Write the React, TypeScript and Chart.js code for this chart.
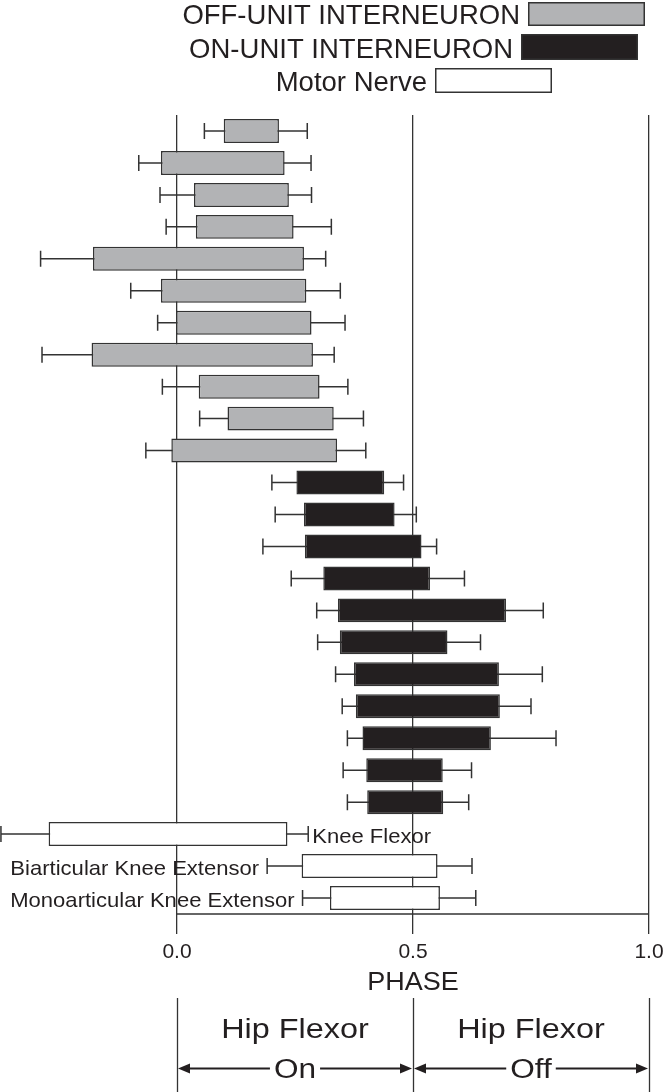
import React, { useEffect, useRef } from 'react';
import { Chart, registerables } from 'chart.js';

Chart.register(...registerables);

// ---------------- DATA ----------------
const rowLabels = [
  'Off-unit 1', 'Off-unit 2', 'Off-unit 3', 'Off-unit 4', 'Off-unit 5', 'Off-unit 6',
  'Off-unit 7', 'Off-unit 8', 'Off-unit 9', 'Off-unit 10', 'Off-unit 11',
  'On-unit 1', 'On-unit 2', 'On-unit 3', 'On-unit 4', 'On-unit 5', 'On-unit 6',
  'On-unit 7', 'On-unit 8', 'On-unit 9', 'On-unit 10', 'On-unit 11',
  'Knee Flexor', 'Biarticular Knee Extensor', 'Monoarticular Knee Extensor',
];

const offBoxLow = [0.099, -0.034, 0.036, 0.040, -0.178, -0.034, -0.002, -0.181, 0.046, 0.107, -0.012];
const offBoxHigh = [0.216, 0.228, 0.237, 0.247, 0.269, 0.274, 0.285, 0.288, 0.302, 0.332, 0.339];
const offWhiskLow = [0.058, -0.081, -0.036, -0.023, -0.289, -0.098, -0.041, -0.286, -0.031, 0.048, -0.066];
const offWhiskHigh = [0.276, 0.284, 0.285, 0.327, 0.315, 0.346, 0.356, 0.333, 0.362, 0.395, 0.400];

const onBoxLow = [0.253, 0.269, 0.271, 0.310, 0.341, 0.345, 0.375, 0.379, 0.393, 0.401, 0.403];
const onBoxHigh = [0.439, 0.461, 0.518, 0.536, 0.697, 0.573, 0.682, 0.684, 0.665, 0.563, 0.564];
const onWhiskLow = [0.201, 0.208, 0.182, 0.242, 0.296, 0.298, 0.336, 0.350, 0.361, 0.352, 0.361];
const onWhiskHigh = [0.480, 0.507, 0.550, 0.609, 0.776, 0.643, 0.774, 0.750, 0.803, 0.624, 0.618];

const motorBoxLow = [-0.272, 0.264, 0.324];
const motorBoxHigh = [0.234, 0.552, 0.557];
const motorWhiskLow = [-0.373, 0.191, 0.266];
const motorWhiskHigh = [0.278, 0.625, 0.633];
const motorLabelSide = ['right', 'left', 'left'];

const seriesNames = ['OFF-UNIT INTERNEURON', 'ON-UNIT INTERNEURON', 'Motor Nerve'];

const xTickValues = [0, 0.5, 1.0];
const xTickLabels = ['0.0', '0.5', '1.0'];
const xAxisTitle = 'PHASE';

const bandStarts = [0, 0.5];
const bandEnds = [0.5, 1.0];
const bandTitles = ['Hip Flexor', 'Hip Flexor'];
const bandStates = ['On', 'Off'];

// ---------------- STYLE ----------------
const FONT = '"Liberation Sans", Arial, Helvetica, sans-serif';
const INK = '#231f20';
const LINE = '#333333';
const GRAY = '#b2b3b5';
const BLACK = '#231f20';
const WHITE = '#ffffff';

const N_OFF = offBoxLow.length;
const N_ON = onBoxLow.length;
const N_MOTOR = motorBoxLow.length;

function pad<T>(before: number, items: T[], after: number): (T | null)[] {
  return [...Array(before).fill(null), ...items, ...Array(after).fill(null)];
}

const offData = pad(0, offBoxLow.map((v, i) => [v, offBoxHigh[i]]), N_ON + N_MOTOR);
const offWhiskers = pad(0, offWhiskLow.map((v, i) => [v, offWhiskHigh[i]]), N_ON + N_MOTOR);
const onData = pad(N_OFF, onBoxLow.map((v, i) => [v, onBoxHigh[i]]), N_MOTOR);
const onWhiskers = pad(N_OFF, onWhiskLow.map((v, i) => [v, onWhiskHigh[i]]), N_MOTOR);
const motorData = pad(N_OFF + N_ON, motorBoxLow.map((v, i) => [v, motorBoxHigh[i]]), 0);
const motorWhiskers = pad(N_OFF + N_ON, motorWhiskLow.map((v, i) => [v, motorWhiskHigh[i]]), 0);

function drawText(ctx: CanvasRenderingContext2D, s: string, x: number, y: number, size: number,
  align: CanvasTextAlign, sx = 1, color = INK) {
  ctx.save();
  ctx.font = `${size}px ${FONT}`;
  ctx.fillStyle = color;
  ctx.textBaseline = 'alphabetic';
  ctx.textAlign = align;
  ctx.translate(x, y);
  ctx.scale(sx, 1);
  ctx.fillText(s, 0, 0);
  ctx.restore();
}

function textWidth(ctx: CanvasRenderingContext2D, s: string, size: number, sx = 1) {
  ctx.save();
  ctx.font = `${size}px ${FONT}`;
  const w = ctx.measureText(s).width * sx;
  ctx.restore();
  return w;
}

function arrowHead(ctx: CanvasRenderingContext2D, tipX: number, y: number, dir: number) {
  const len = 12, half = 5;
  ctx.beginPath();
  ctx.moveTo(tipX, y);
  ctx.lineTo(tipX - dir * len, y - half);
  ctx.lineTo(tipX - dir * len, y + half);
  ctx.closePath();
  ctx.fill();
}

const legendBoxes = [
  [528, 2, 117, 24],
  [521, 34, 117, 26],
  [435, 68, 117, 25],
];
const legendBaselines = [24, 57.5, 91];

const customPlugin = {
  id: 'custom',
  beforeDatasetsDraw(chart: any) {
    const { ctx } = chart;
    const xs = chart.scales.x, ys = chart.scales.y;
    ctx.save();
    ctx.strokeStyle = LINE;
    ctx.lineWidth = 1.5;
    chart.data.datasets.forEach((ds: any) => {
      (ds.whiskers || []).forEach((w: number[] | null, i: number) => {
        if (!w) return;
        const yc = ys.getPixelForValue(i);
        const x1 = xs.getPixelForValue(w[0]);
        const x2 = xs.getPixelForValue(w[1]);
        ctx.beginPath();
        ctx.moveTo(x1, yc); ctx.lineTo(x2, yc);
        ctx.moveTo(x1, yc - 8); ctx.lineTo(x1, yc + 8);
        ctx.moveTo(x2, yc - 8); ctx.lineTo(x2, yc + 8);
        ctx.stroke();
      });
    });
    ctx.restore();
  },
  afterDraw(chart: any) {
    const { ctx, chartArea } = chart;
    const xs = chart.scales.x, ys = chart.scales.y;
    const x0 = xs.getPixelForValue(xTickValues[0]);
    const x1 = xs.getPixelForValue(xTickValues[xTickValues.length - 1]);

    // bottom axis line (only across 0..1)
    ctx.save();
    ctx.strokeStyle = LINE;
    ctx.lineWidth = 1.3;
    ctx.beginPath();
    ctx.moveTo(x0, chartArea.bottom);
    ctx.lineTo(x1, chartArea.bottom);
    ctx.stroke();
    ctx.restore();

    // motor nerve labels
    const motorDs: any = chart.data.datasets[2];
    for (let k = 0; k < N_MOTOR; k++) {
      const i = N_OFF + N_ON + k;
      const yc = ys.getPixelForValue(i);
      const w = motorDs.whiskers[i];
      const label = chart.data.labels[i];
      if (motorLabelSide[k] === 'right') {
        drawText(ctx, label, xs.getPixelForValue(w[1]) + 4, yc + 8.5, 21, 'left', 1.05);
      } else {
        drawText(ctx, label, xs.getPixelForValue(w[0]) - 8, yc + 8.5, 21, 'right', 1.05);
      }
    }

    // legend
    chart.data.datasets.forEach((ds: any, d: number) => {
      const [bx, by, bw, bh] = legendBoxes[d];
      ctx.save();
      ctx.fillStyle = ds.backgroundColor;
      ctx.fillRect(bx, by, bw, bh);
      ctx.strokeStyle = LINE;
      ctx.lineWidth = 1.5;
      ctx.strokeRect(bx + 0.75, by + 0.75, bw - 1.5, bh - 1.5);
      ctx.restore();
      drawText(ctx, ds.label, bx - 8, legendBaselines[d], 27.5, 'right');
    });

    // axis title
    drawText(ctx, xAxisTitle, xs.getPixelForValue(0.5), 990, 25, 'center', 1.08);

    // hip flexor bands
    const bandLineTop = 998;
    const H = chart.height;
    ctx.save();
    ctx.strokeStyle = LINE;
    ctx.lineWidth = 1.3;
    const edges = [bandStarts[0], ...bandEnds];
    edges.forEach((v) => {
      const px = Math.round(xs.getPixelForValue(v)) + 0.5;
      ctx.beginPath();
      ctx.moveTo(px, bandLineTop);
      ctx.lineTo(px, H);
      ctx.stroke();
    });
    ctx.restore();

    const arrowY = 1068.5;
    bandStarts.forEach((s, b) => {
      const a = xs.getPixelForValue(s) + 1;
      const e = xs.getPixelForValue(bandEnds[b]) - 1;
      const mid = (xs.getPixelForValue(s) + xs.getPixelForValue(bandEnds[b])) / 2;
      drawText(ctx, bandTitles[b], mid, 1038, 27, 'center', 1.2);
      drawText(ctx, bandStates[b], mid, 1077.5, 27, 'center', 1.17);
      const tw = textWidth(ctx, bandStates[b], 27, 1.17);
      ctx.save();
      ctx.strokeStyle = INK;
      ctx.fillStyle = INK;
      ctx.lineWidth = 2;
      ctx.beginPath();
      ctx.moveTo(a + 8, arrowY);
      ctx.lineTo(mid - tw / 2 - 4, arrowY);
      ctx.moveTo(mid + tw / 2 + 4, arrowY);
      ctx.lineTo(e - 8, arrowY);
      ctx.stroke();
      arrowHead(ctx, a, arrowY, -1);
      arrowHead(ctx, e, arrowY, 1);
      ctx.restore();
    });
  },
};

export default function App() {
  const ref = useRef<HTMLCanvasElement>(null);
  useEffect(() => {
    document.body.style.margin = '0';
    Chart.defaults.font.family = FONT;
    Chart.defaults.color = INK;
    const common = {
      borderColor: LINE,
      borderWidth: 1.5,
      borderSkipped: false,
      grouped: false,
      barPercentage: 0.75,
      categoryPercentage: 1,
    };
    const chart = new Chart(ref.current as HTMLCanvasElement, {
      type: 'bar',
      data: {
        labels: rowLabels,
        datasets: [
          { ...common, label: seriesNames[0], data: offData, whiskers: offWhiskers, backgroundColor: GRAY } as any,
          { ...common, label: seriesNames[1], data: onData, whiskers: onWhiskers, backgroundColor: BLACK } as any,
          { ...common, label: seriesNames[2], data: motorData, whiskers: motorWhiskers, backgroundColor: WHITE } as any,
        ],
      },
      options: {
        indexAxis: 'y',
        animation: false,
        responsive: false,
        maintainAspectRatio: false,
        layout: { padding: { top: 115, right: 16, left: 0, bottom: 0 } },
        scales: {
          x: {
            type: 'linear',
            min: -0.375,
            max: 1.0,
            afterBuildTicks: (s: any) => {
              s.ticks = xTickValues.map((v) => ({ value: v }));
            },
            afterFit: (s: any) => {
              s.height = 178;
              s.paddingLeft = 0;
              s.paddingRight = 0;
            },
            grid: {
              color: LINE,
              lineWidth: 1.3,
              drawTicks: true,
              tickLength: 20,
              drawOnChartArea: true,
            },
            border: { display: false },
            ticks: {
              autoSkip: false,
              maxRotation: 0,
              padding: 6,
              color: INK,
              font: { size: 21, family: FONT },
              callback: (_v: any, i: number) => xTickLabels[i],
            },
          },
          y: {
            type: 'category',
            display: false,
          },
        },
        plugins: {
          legend: { display: false },
          tooltip: { enabled: false },
        },
      } as any,
      plugins: [customPlugin],
    });
    return () => chart.destroy();
  }, []);
  return (
    <div style={{ position: 'absolute', left: 0, top: 0, width: 665, height: 1092, background: '#fff' }}>
      <canvas ref={ref} width={665} height={1092} style={{ display: 'block', width: 665, height: 1092 }} />
    </div>
  );
}
